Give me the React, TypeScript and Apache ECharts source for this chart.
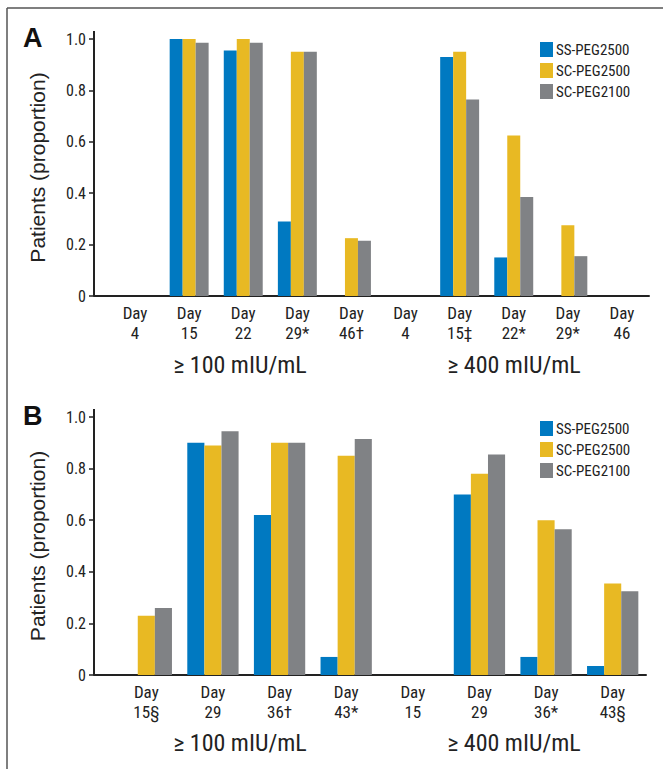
import * as echarts from 'echarts'
import { useEffect, useRef } from 'react'

const seriesNames = ['SS-PEG2500', 'SC-PEG2500', 'SC-PEG2100']
const colors = ['#0079c1', '#e8b923', '#808285']

const daysA = ['Day\n4', 'Day\n15', 'Day\n22', 'Day\n29*', 'Day\n46†', 'Day\n4', 'Day\n15‡', 'Day\n22*', 'Day\n29*', 'Day\n46']
const ssA = [0, 1.0, 0.955, 0.29, 0, 0, 0.93, 0.15, 0, 0]
const sc2500A = [0, 1.0, 1.0, 0.95, 0.225, 0, 0.95, 0.625, 0.275, 0]
const sc2100A = [0, 0.985, 0.985, 0.95, 0.215, 0, 0.765, 0.385, 0.155, 0]

const daysB = ['Day\n15§', 'Day\n29', 'Day\n36†', 'Day\n43*', 'Day\n15', 'Day\n29', 'Day\n36*', 'Day\n43§']
const ssB = [0, 0.9, 0.62, 0.07, 0, 0.7, 0.07, 0.035]
const sc2500B = [0.23, 0.89, 0.9, 0.85, 0, 0.78, 0.6, 0.355]
const sc2100B = [0.26, 0.945, 0.9, 0.915, 0, 0.855, 0.565, 0.325]

const groupLabels = ['≥ 100 mIU/mL', '≥ 400 mIU/mL']

const narrow = '"Liberation Sans Narrow", "Roboto Condensed", "DejaVu Sans Condensed", sans-serif'
const axisColor = '#222'

// pixel layout of both panels
const panels = [
  { letter: 'A', top: 39, bottom: 296, left: 108, right: 14, gap: '28%', legendTop: 37, groupY: 365, groupX: [240, 514] },
  { letter: 'B', top: 417, bottom: 675, left: 113, right: 17, gap: '23%', legendTop: 416, groupY: 743, groupX: [240, 514] },
]

export default function App() {
  const ref = useRef<HTMLDivElement>(null)

  useEffect(() => {
    document.body.style.margin = '0'
    const el = ref.current
    if (!el) return
    const chart = echarts.init(el, null, { renderer: 'svg' })
    const data = [
      [ssA, sc2500A, sc2100A],
      [ssB, sc2500B, sc2100B],
    ]
    const cats = [daysA, daysB]
    const graphic: any[] = [
      { type: 'line', shape: { x1: 7, y1: 8, x2: 663, y2: 8 }, style: { stroke: '#555', lineWidth: 1.5 } },
      { type: 'line', shape: { x1: 7, y1: 8, x2: 7, y2: 769 }, style: { stroke: '#555', lineWidth: 1.5 } },
    ]
    panels.forEach((p) => {
      graphic.push({ type: 'text', x: 23, y: p.top - 15, style: { text: p.letter, font: 'bold 27px "Liberation Sans", sans-serif', fill: '#111' } })
      graphic.push({ type: 'line', shape: { x1: 94, y1: p.bottom, x2: p.left, y2: p.bottom }, style: { stroke: axisColor, lineWidth: 2 } })
      graphic.push({ type: 'line', shape: { x1: 94, y1: p.top - 8, x2: 94, y2: p.top }, style: { stroke: axisColor, lineWidth: 2 } })
      graphic.push({
        type: 'text', x: 37, y: (p.top + p.bottom) / 2, rotation: Math.PI / 2,
        style: { text: 'Patients (proportion)', font: '21px "Liberation Sans", sans-serif', fill: '#222', align: 'center', verticalAlign: 'middle' },
      })
      groupLabels.forEach((g, i) => {
        graphic.push({
          type: 'text', x: p.groupX[i], y: p.groupY,
          style: { text: g, font: `24px ${narrow}`, fill: '#222', align: 'center', verticalAlign: 'middle' },
        })
      })
    })

    chart.setOption({
      animation: false,
      backgroundColor: '#fff',
      grid: panels.map((p) => ({ left: p.left, right: p.right, top: p.top, height: p.bottom - p.top, containLabel: false })),
      legend: panels.map((p) => ({
        data: seriesNames,
        orient: 'vertical',
        left: 535,
        top: p.legendTop,
        itemWidth: 13,
        itemHeight: 15,
        itemGap: 6,
        icon: 'rect',
        textStyle: { fontFamily: narrow, fontSize: 15, color: '#222', padding: [0, 0, 0, -2] },
        selectedMode: false,
      })),
      xAxis: panels.map((p, i) => ({
        type: 'category',
        gridIndex: i,
        data: cats[i],
        axisLine: { lineStyle: { color: axisColor, width: 2 } },
        axisTick: { show: false },
        axisLabel: { fontFamily: narrow, fontSize: 17, color: '#222', lineHeight: 20, margin: 7 },
      })),
      yAxis: panels.map((p, i) => ({
        type: 'value',
        gridIndex: i,
        min: 0,
        max: 1,
        interval: 0.2,
        offset: p.left - 94,
        axisLine: { show: true, lineStyle: { color: axisColor, width: 2 } },
        axisTick: { show: true, length: 5, lineStyle: { color: axisColor, width: 1.5 } },
        splitLine: { show: false },
        axisLabel: {
          fontFamily: narrow, fontSize: 16, color: '#222', margin: 8,
          formatter: (v: number) => (v === 0 ? '0' : v.toFixed(1)),
        },
      })),
      series: panels.flatMap((p, i) =>
        seriesNames.map((name, s) => ({
          name,
          type: 'bar',
          xAxisIndex: i,
          yAxisIndex: i,
          data: data[i][s],
          barGap: '0%',
          barCategoryGap: p.gap,
          itemStyle: { color: colors[s] },
        })),
      ),
      graphic,
    })
    return () => chart.dispose()
  }, [])

  return <div ref={ref} style={{ width: 663, height: 769 }} />
}
